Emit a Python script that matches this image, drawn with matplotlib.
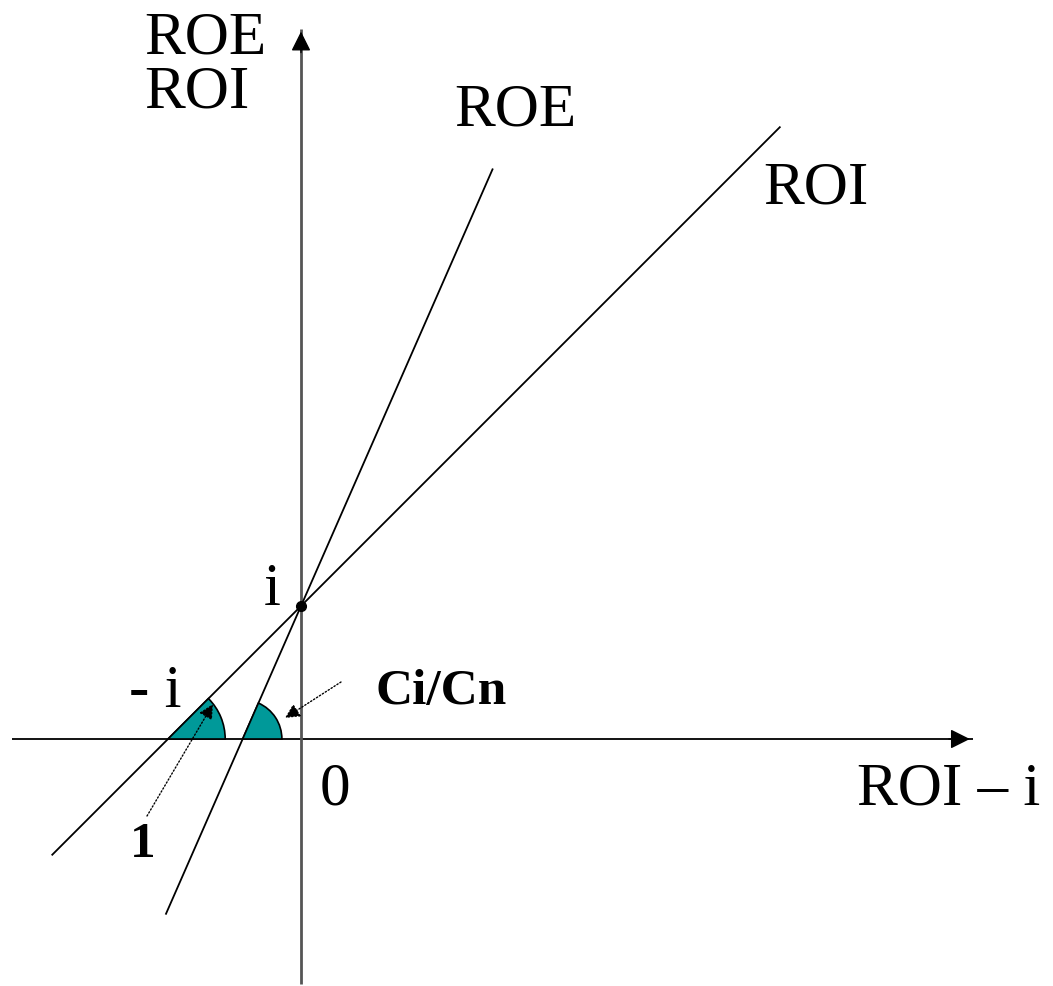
import matplotlib
matplotlib.use("Agg")
import matplotlib.pyplot as plt
from matplotlib.patches import Wedge
import numpy as np

# 그래프 값 (단위: i = 1)
i_val = 1.0
roi_slope = 1.0
roe_slope = 2.28
roi_x = [-1.87, 3.60]
roe_x = [-1.015, 1.44]
x_axis = [-2.17, 5.05]
y_axis = [-1.84, 5.34]

# 픽셀 -> 데이터 좌표
U = 133.0
def P(px, py):
    return ((px - 301) / U, (740 - py) / U)

fig = plt.figure(figsize=(10.53, 9.87), dpi=100)
ax = fig.add_axes([0, 0, 1, 1])
ax.set_xlim(P(0, 0)[0], P(1053, 0)[0])
ax.set_ylim(P(0, 987)[1], P(0, 0)[1])
ax.set_aspect("equal")
ax.axis("off")

serif = "Liberation Serif"
big = 44
bold = 37

# 축
ax.plot(x_axis, [0, 0], color="black", lw=1.3, solid_capstyle="butt")
ax.plot([0, 0], y_axis, color="#555555", lw=2, solid_capstyle="butt")
ax.annotate("", xy=(x_axis[1], 0), xytext=(x_axis[1] - 0.2, 0),
            arrowprops=dict(arrowstyle="-|>", color="black", lw=1, mutation_scale=30))
ax.annotate("", xy=(0, y_axis[1]), xytext=(0, y_axis[1] - 0.2),
            arrowprops=dict(arrowstyle="-|>", color="black", lw=1, mutation_scale=30))

# ROI, ROE 직선
xr = np.array(roi_x)
ax.plot(xr, i_val + roi_slope * xr, color="black", lw=1.3)
xe = np.array(roe_x)
ax.plot(xe, i_val + roe_slope * xe, color="black", lw=1.3)

# 각도 표시
teal = "#009999"
x0_roi = -i_val / roi_slope
x0_roe = -i_val / roe_slope
ax.add_patch(Wedge((x0_roi, 0), 0.43, 0, np.degrees(np.arctan(roi_slope)),
                   facecolor=teal, edgecolor="black", lw=1.2, zorder=3))
ax.add_patch(Wedge((x0_roe, 0), 0.295, 0, np.degrees(np.arctan(roe_slope)),
                   facecolor=teal, edgecolor="black", lw=1.2, zorder=3))

# 교점
ax.plot([0], [i_val], "o", color="black", ms=7, zorder=4)

# 점선 화살표
ax.annotate("", xy=P(213, 705), xytext=P(147, 817),
            arrowprops=dict(arrowstyle="-|>", color="black", lw=1,
                            ls=(0, (1, 1.5)), mutation_scale=22, shrinkA=0, shrinkB=0))
ax.annotate("", xy=P(285, 719), xytext=P(341, 683),
            arrowprops=dict(arrowstyle="-|>", color="black", lw=1,
                            ls=(0, (1, 1.5)), mutation_scale=22, shrinkA=0, shrinkB=0))

# 텍스트
def txt(px, py, s, size=big, weight="normal", ha="left"):
    ax.text(*P(px, py), s, fontsize=size, fontweight=weight, family=serif,
            ha=ha, va="baseline")

txt(144, 53, "ROE")
txt(144, 108, "ROI")
txt(454, 125, "ROE")
txt(763, 203, "ROI")
txt(857, 805, "ROI \u2013 i")
txt(320, 805, "0")
txt(264, 605, "i")
txt(129, 707, "- i")
txt(375, 704, "Ci/Cn", size=bold, weight="bold")
txt(130, 857, "1", size=bold, weight="bold")

fig.savefig("out.png", dpi=100)
